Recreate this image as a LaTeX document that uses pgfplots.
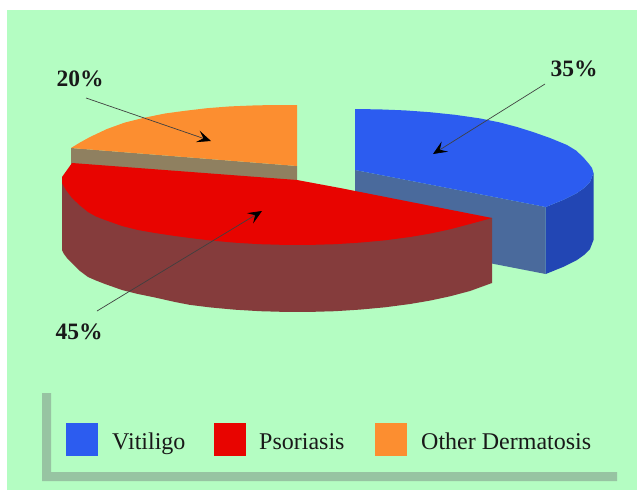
\documentclass[border=0pt]{standalone}
\usepackage{pgfplots}
\pgfplotsset{compat=1.18}
\usepackage{fontspec}
\setmainfont{Liberation Serif}
\usetikzlibrary{arrows.meta}
\definecolor{bgc}{HTML}{B4FDC2}
\definecolor{shad}{HTML}{97C4A2}
\definecolor{blueT}{HTML}{2C5CF0}
\definecolor{blueF}{HTML}{4A6A9C}
\definecolor{blueS}{HTML}{2246B4}
\definecolor{redT}{HTML}{E80400}
\definecolor{redS}{HTML}{853C3C}
\definecolor{orT}{HTML}{FC8E30}
\definecolor{orS}{HTML}{8F8060}
\begin{document}
\begin{tikzpicture}[x=1pt,y=1pt]
\begin{axis}[scale only axis,width=637pt,height=490pt,xmin=0,xmax=637,ymin=0,ymax=490,y dir=reverse,hide axis,clip=true]
% paper and panel
\addplot[fill=white,draw=none] coordinates {(0,0)(637,0)(637,490)(0,490)} --cycle;
\addplot[fill=bgc,draw=none] coordinates {(7,10)(637,10)(637,490)(7,490)} --cycle;
% legend shadow
\addplot[fill=shad,draw=none] coordinates {(42,393)(51,393)(51,472)(617,472)(617,481)(42,481)} --cycle;
% blue slice
\addplot[fill=blueF,draw=none] coordinates {(355,170)(545.7,207)(545.7,274)(355,237)} --cycle;
\addplot[fill=blueS,draw=none] coordinates {(545.7,207)(563,200)(577,193)(584,188)(590,182)(593.5,173)(593.5,240)(590,249)(584,255)(577,260)(563,267)(545.7,274)} --cycle;
\addplot[fill=blueT,draw=none] coordinates {(355,109)(380,109.4)(405,110.4)(430,112.2)(455,114.8)(480,118.4)(500,122.5)(517,127)(533,132)(550,138)(567,145)(576,150.5)(583,157)(589,164)(592,168)(593.5,173)(590,182)(584,188)(577,193)(563,200)(545.7,207)(355,170)} --cycle;
% orange slice
\addplot[fill=orS,draw=none] coordinates {(71,148)(297,166)(297,182)(71,164)} --cycle;
\addplot[fill=orT,draw=none] coordinates {(297,105)(297,166)(71,148)(80,142.5)(90,137)(107,129)(125,122.5)(143,118)(165,113.5)(185,110.8)(207,108.2)(230,106.4)(255,105.4)(275,105)} --cycle;
% red slice
\addplot[fill=redS,draw=none] coordinates {(62,177)(62,250)(64,254)(67,258)(72,263)(80,271)(88,277)(96,280.5)(105,284)(122,290)(138,294)(155,297.5)(175,302)(190,304.9)(210,307.4)(235,309.7)(260,311.2)(285,311.9)(310,311.9)(335,311.2)(360,309.6)(385,307.3)(410,304)(430,300.6)(450,296.3)(470,291)(492,283)(492,218)} --cycle;
\addplot[fill=redT,draw=none] coordinates {(72,163)(297,180)(340,188)(492,218)(470,224)(450,229.3)(430,233.6)(410,237)(385,240.3)(360,242.6)(335,244.2)(310,244.9)(285,244.9)(260,244.2)(235,242.7)(210,240.4)(190,238)(175,236)(155,233)(138,230)(122,226)(105,220)(96,216.5)(88,212)(80,205.5)(72,198)(66,190)(62,183)(62,177)} --cycle;
% legend swatches
\addplot[fill=blueT,draw=none] coordinates {(66,423)(98,423)(98,456)(66,456)} --cycle;
\addplot[fill=redT,draw=none] coordinates {(214,423)(246,423)(246,456)(214,456)} --cycle;
\addplot[fill=orT,draw=none] coordinates {(375,423)(407,423)(407,456)(375,456)} --cycle;
% leader arrows
\addplot[draw=black!75,line width=0.7pt,-{Stealth[length=14pt,width=12pt,inset=6pt,black]}] coordinates {(545,84)(433,154)};
\addplot[draw=black!75,line width=0.7pt,-{Stealth[length=14pt,width=12pt,inset=6pt,black]}] coordinates {(86,98)(211,141)};
\addplot[draw=black!75,line width=0.7pt,-{Stealth[length=14pt,width=12pt,inset=6pt,black]}] coordinates {(97,311)(262,211)};
% labels
\node[font=\fontsize{23.5}{24}\selectfont\bfseries,text=black!90] at (axis cs:574,69) {35\%};
\node[font=\fontsize{23.5}{24}\selectfont\bfseries,text=black!90] at (axis cs:80,79) {20\%};
\node[font=\fontsize{23.5}{24}\selectfont\bfseries,text=black!90] at (axis cs:79,332) {45\%};
\node[font=\fontsize{24}{24}\selectfont,anchor=base west,inner sep=0pt,text=black!90] at (axis cs:112,449) {Vitiligo};
\node[font=\fontsize{24}{24}\selectfont,anchor=base west,inner sep=0pt,text=black!90] at (axis cs:259,449) {Psoriasis};
\node[font=\fontsize{24}{24}\selectfont,anchor=base west,inner sep=0pt,text=black!90] at (axis cs:421,449) {Other Dermatosis};
\end{axis}
\end{tikzpicture}
\end{document}
